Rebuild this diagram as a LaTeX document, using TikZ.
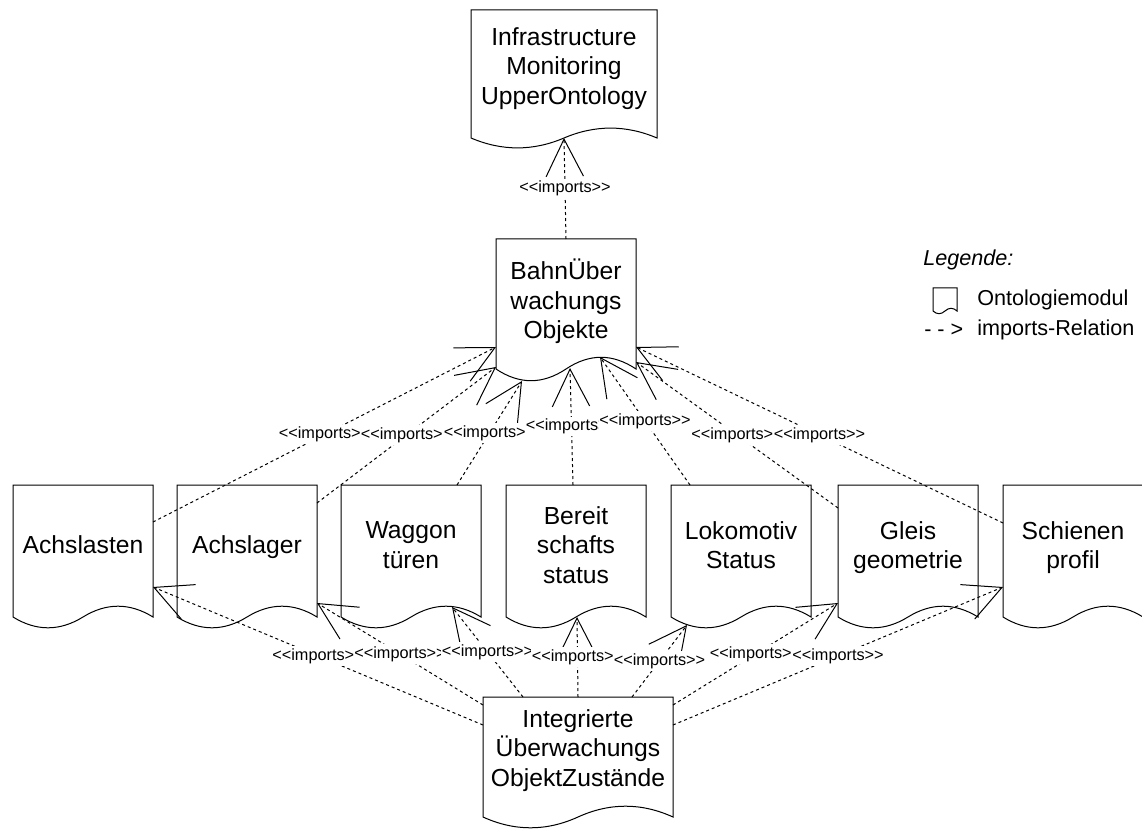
\documentclass[tikz,border=0pt]{standalone}
\usepackage{fontspec}
\setmainfont{Liberation Sans}[Ligatures=TeXOff]
\usetikzlibrary{arrows.meta,calc}

\tikzset{
  docline/.style={draw=black, line width=0.75pt, fill=white, line join=miter},
  boxnode/.style={inner sep=0pt, outer sep=0pt, draw=none},
  doctext/.style={align=center, font=\fontsize{18.5pt}{22.2pt}\selectfont, inner sep=0pt, text depth=0pt},
  impline/.style={draw=black, line width=0.75pt, dash pattern=on 2.25pt off 2.25pt,
    -{Straight Barb[length=28pt,width=28pt]}},
  lbl/.style={fill=white, inner xsep=0.5pt, inner ysep=1.5pt, font=\fontsize{12.2pt}{14pt}\selectfont},
  legtext/.style={font=\fontsize{16.2pt}{19pt}\selectfont, inner sep=0pt, anchor=west},
}

% #1 name, #2 X, #3 Y, #4 w, #5 h, #6 wave size (all in px, y downwards)
\newcommand\docshape[6]{%
  \path[docline] ({#2},{#3}) -- ({#2+#4},{#3}) -- ({#2+#4},{#3+#5-#6/2})
    .. controls ({#2+5*#4/6},{#3+#5-1.1*#6}) and ({#2+2*#4/3},{#3+#5-1.1*#6}) .. ({#2+#4/2},{#3+#5-#6/2})
    .. controls ({#2+#4/3},{#3+#5+0.1*#6}) and ({#2+#4/6},{#3+#5+0.1*#6}) .. ({#2},{#3+#5-#6/2}) -- cycle;
  \node[boxnode, minimum width={#4*0.75pt}, minimum height={#5*0.75pt}] (#1) at ({#2+#4/2},{#3+#5/2}) {};
}

\begin{document}
\begin{tikzpicture}[x=0.75pt, y=-0.75pt]
\useasboundingbox (0,0) rectangle (1142,830);
\clip (0,0) rectangle (1142,830);

% documents
\docshape{infra}{471}{10}{186}{139}{22}
\docshape{bahn}{496}{239}{140}{143}{26}
\docshape{achslasten}{13}{485}{140}{144}{24}
\docshape{achslager}{177}{485}{140}{144}{24}
\docshape{waggon}{341}{485}{140}{144}{24}
\docshape{bereit}{506}{485}{140}{144}{24}
\docshape{lok}{671}{485}{140}{144}{24}
\docshape{gleis}{838}{485}{140}{144}{24}
\docshape{schiene}{1003}{485}{140}{144}{24}
\docshape{integ}{483}{697}{190}{132}{24}

\node[doctext] (infra-t) at (564,66) {Infrastructure\\Monitoring\\UpperOntology};
\node[doctext] (bahn-t) at (566,299) {BahnÜber\\wachungs\\Objekte};
\node[doctext] (achslasten-t) at (83,545) {Achslasten};
\node[doctext] (achslager-t) at (247,545) {Achslager};
\node[doctext] (waggon-t) at (411,545) {Waggon\\türen};
\node[doctext] (bereit-t) at (576,545) {Bereit\\schafts\\status};
\node[doctext] (lok-t) at (741,545) {Lokomotiv\\Status};
\node[doctext] (gleis-t) at (908,545) {Gleis\\geometrie};
\node[doctext] (schiene-t) at (1073,545) {Schienen\\profil};
\node[doctext] (integ-t) at (578,748) {Integrierte\\Überwachungs\\ObjektZustände};

% connectors
\draw[impline] ($(bahn.north west)+(70,0)$) -- ($(infra.north west)+(93,128)$);

\draw[impline] ($(achslasten.north west)+(140,37)$) -- ($(bahn.north west)+(0,108)$);
\draw[impline] ($(achslager.north west)+(140,18)$) -- ($(bahn.north west)+(0,128)$);
\draw[impline] ($(waggon.north west)+(116,0)$) -- ($(bahn.north west)+(26,142)$);
\draw[impline] ($(bereit.north west)+(67,0)$) -- ($(bahn.north west)+(74,129)$);
\draw[impline] ($(lok.north west)+(19,0)$) -- ($(bahn.north west)+(104,118)$);
\draw[impline] ($(gleis.north west)+(0,23)$) -- ($(bahn.north west)+(140,123)$);
\draw[impline] ($(schiene.north west)+(0,38)$) -- ($(bahn.north west)+(140,108)$);

\draw[impline] ($(integ.north west)+(0,28)$) -- ($(achslasten.north west)+(140,102)$);
\draw[impline] ($(integ.north west)+(0,8)$) -- ($(achslager.north west)+(140,118)$);
\draw[impline] ($(integ.north west)+(40,0)$) -- ($(waggon.north west)+(111,122)$);
\draw[impline] ($(integ.north west)+(95,0)$) -- ($(bereit.north west)+(71,132)$);
\draw[impline] ($(integ.north west)+(149,0)$) -- ($(lok.north west)+(16,140)$);
\draw[impline] ($(integ.north west)+(190,8)$) -- ($(gleis.north west)+(0,118)$);
\draw[impline] ($(integ.north west)+(190,28)$) -- ($(schiene.north west)+(0,102)$);

% labels (drawn after all lines, left to right)
\path ($(bahn.north west)+(70,0)$) -- ($(infra.north west)+(93,128)$) node[lbl,midway] (l0) {<<imports>>};

\path ($(achslasten.north west)+(140,37)$) -- ($(bahn.north west)+(0,108)$) node[lbl,midway] (u1) {<<imports>>};
\path ($(achslager.north west)+(140,18)$) -- ($(bahn.north west)+(0,128)$) node[lbl,midway] (u2) {<<imports>>};
\path ($(waggon.north west)+(116,0)$) -- ($(bahn.north west)+(26,142)$) node[lbl,midway] (u3) {<<imports>>};
\path ($(bereit.north west)+(67,0)$) -- ($(bahn.north west)+(74,129)$) node[lbl,midway] (u4) {<<imports>>};
\path ($(lok.north west)+(19,0)$) -- ($(bahn.north west)+(104,118)$) node[lbl,midway] (u5) {<<imports>>};
\path ($(gleis.north west)+(0,23)$) -- ($(bahn.north west)+(140,123)$) node[lbl,midway] (u6) {<<imports>>};
\path ($(schiene.north west)+(0,38)$) -- ($(bahn.north west)+(140,108)$) node[lbl,midway] (u7) {<<imports>>};

\path ($(integ.north west)+(0,28)$) -- ($(achslasten.north west)+(140,102)$) node[lbl,midway] (d1) {<<imports>>};
\path ($(integ.north west)+(0,8)$) -- ($(achslager.north west)+(140,118)$) node[lbl,midway] (d2) {<<imports>>};
\path ($(integ.north west)+(40,0)$) -- ($(waggon.north west)+(111,122)$) node[lbl,midway] (d3) {<<imports>>};
\path ($(integ.north west)+(95,0)$) -- ($(bereit.north west)+(71,132)$) node[lbl,midway] (d4) {<<imports>>};
\path ($(integ.north west)+(149,0)$) -- ($(lok.north west)+(16,140)$) node[lbl,midway] (d5) {<<imports>>};
\path ($(integ.north west)+(190,8)$) -- ($(gleis.north west)+(0,118)$) node[lbl,midway] (d6) {<<imports>>};
\path ($(integ.north west)+(190,28)$) -- ($(schiene.north west)+(0,102)$) node[lbl,midway] (d7) {<<imports>>};

% legend
\node[legtext] (leg-title) at (923,260) {\itshape Legende:};
\docshape{legicon}{933}{288}{24}{26}{6}
\node[legtext] (leg-doc) at (977,300) {Ontologiemodul};
\node[legtext] (leg-arrow) at (924,330) {-\kern4.5pt-\kern4.5pt>};
\node[legtext] (leg-rel) at (977,330) {imports-Relation};
\end{tikzpicture}
\end{document}
